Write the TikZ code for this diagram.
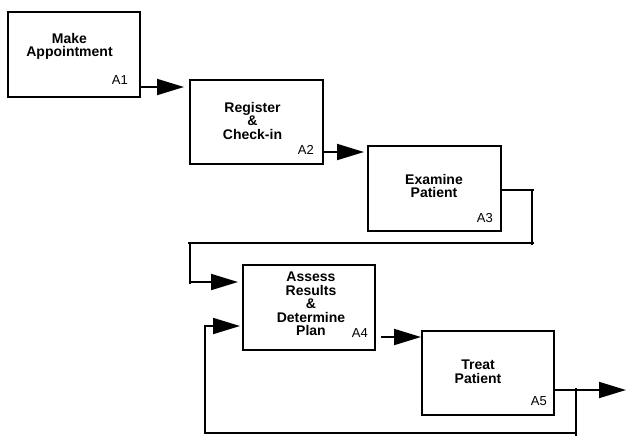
\documentclass[tikz,border=0pt]{standalone}
\usepackage{fontspec}
\setmainfont{Liberation Sans}
\usetikzlibrary{arrows.meta}
\tikzset{
  box/.style={draw, line width=1.9pt, minimum width=#1, inner sep=0pt, anchor=north west},
  ttl/.style={font=\bfseries\fontsize{14}{13.5}\selectfont, align=center, anchor=north, inner sep=0pt},
  lab/.style={font=\fontsize{13}{13}\selectfont, anchor=base east, inner sep=0pt},
  conn/.style={line width=1.9pt},
  arr/.style={line width=1.9pt, -{Triangle[length=27pt,width=16pt]}},
}
\begin{document}
\begin{tikzpicture}[x=1pt,y=-1pt]
\useasboundingbox (0,0) rectangle (626,437);
% boxes
\node[box=132pt, minimum height=85pt] (a1) at (7,11) {};
\node[box=133pt, minimum height=84pt] (a2) at (189,79) {};
\node[box=133pt, minimum height=85pt] (a3) at (367,145) {};
\node[box=132pt, minimum height=85pt] (a4) at (242,264) {};
\node[box=132pt, minimum height=84pt] (a5) at (421,330) {};
% titles
\node[ttl] (t1) at (69.5,33) {Make\\Appointment};
\node[ttl] (t2) at (252.5,102) {Register\\\&\\Check-in};
\node[ttl] (t3) at (434,174) {Examine\\Patient};
\node[ttl] (t4) at (311,272) {Assess\\Results\\\&\\Determine\\Plan};
\node[ttl] (t5) at (478,360) {Treat\\Patient};
% labels
\node[lab] (l1) at (128,84) {A1};
\node[lab] (l2) at (314,154) {A2};
\node[lab] (l3) at (493,222) {A3};
\node[lab] (l4) at (368,337) {A4};
\node[lab] (l5) at (547,405) {A5};
% coordinates
\coordinate (c3a) at (534,190);
\coordinate (c3b) at (532,243);
\coordinate (c3c) at (190,243);
\coordinate (c5a) at (576,390);
\coordinate (c5b) at (576,433);
\coordinate (c5c) at (205,433);
\coordinate (out) at (626,390);
% connectors
\draw[arr] (a1.east |- 0,87) -- ([xshift=-5pt]a2.west |- 0,87);
\draw[arr] (a2.east |- 0,152) -- ([xshift=-3pt]a3.west |- 0,152);
\draw[conn] (a3.east |- c3a) -- (c3a);
\draw[conn] (532,190) -- (532,245);
\draw[conn] (534,243) -- (188,243);
\draw[conn] (c3c) -- (190,284);
\draw[arr] (190,282) -- ([xshift=-4pt]a4.west |- 0,282);
\draw[arr] ([xshift=5pt]a4.east |- 0,337) -- (a5.west |- 0,337);
\draw[arr] (a5.east |- c5a) -- (out);
\draw[conn] (576,388) -- (576,436);
\draw[conn] (c5b) -- (c5c) -- (205,326);
\draw[arr] (204.1,326) -- ([xshift=-2pt]a4.west |- 0,326);
\end{tikzpicture}
\end{document}
